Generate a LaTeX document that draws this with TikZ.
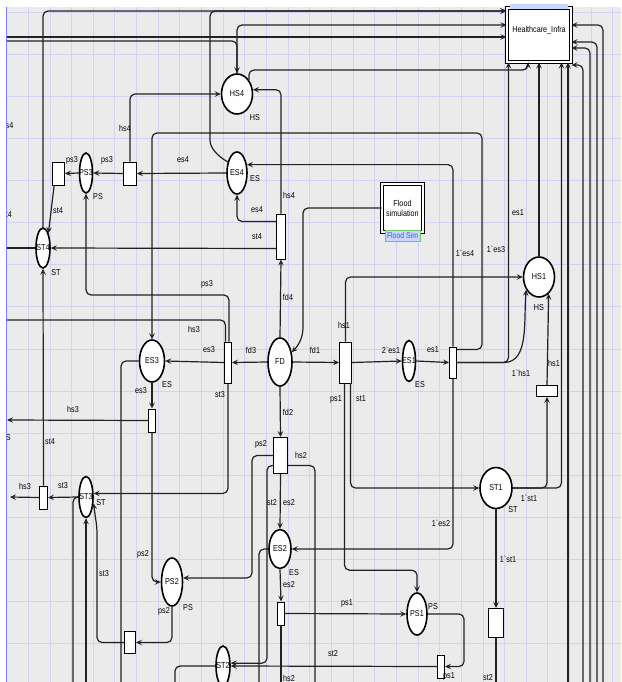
\documentclass[tikz,border=0pt]{standalone}
\usepackage{fontspec}
\newfontfamily\cpnfont{Liberation Sans}[FakeStretch=0.84]
\usepackage{tikz}
\usetikzlibrary{positioning, arrows.meta, calc, shapes.geometric}
\definecolor{canvas}{HTML}{EBEBEB}
\definecolor{gridblue}{HTML}{D2D2F4}
\definecolor{inkline}{HTML}{222222}
\definecolor{tagblue}{HTML}{3A5BE0}
\definecolor{tagfill}{HTML}{C9D6FF}
\definecolor{tagedge}{HTML}{6CCB5F}

\tikzset{
  ptext/.style={font=\cpnfont\fontsize{8.6}{10}\selectfont, inner sep=0pt},
  place/.style={ellipse, draw=black, line width=1.6pt, fill=white, inner sep=0pt,
    label={[ptext]center:#1}},
  trans/.style={rectangle, draw=black, line width=1pt, fill=white, inner sep=0pt},
  subst/.style={rectangle, draw=black, double=white, double distance=1.4pt,
    line width=1pt, fill=white, font=\cpnfont\fontsize{8.6}{10}\selectfont},
  simtag/.style={rectangle, fill=tagfill, draw=tagedge, line width=0.8pt, text=tagblue,
    font=\cpnfont\fontsize{8.2}{9}\selectfont, inner sep=0.5pt, minimum width=35pt, minimum height=11pt},
  cpnarc/.style={draw=inkline, line width=1.2pt, rounded corners=5pt,
    -{Stealth[length=6pt,width=5.5pt,inset=2.4pt]}},
  cpnline/.style={draw=inkline, line width=1.2pt, rounded corners=5pt},
  lbl/.style={font=\cpnfont\fontsize{8.6}{10}\selectfont, inner sep=0pt},
}

\begin{document}
\begin{tikzpicture}[x=1pt, y=-1pt]
\useasboundingbox (0,0) rectangle (621,682);
\fill[white] (0,0) rectangle (621,682);
\begin{scope}
\clip (6,7) rectangle (621,682);
\fill[canvas] (6,7) rectangle (621,682);
\foreach \gx in {0,...,28}
  \draw[gridblue, line width=0.6pt] (6.5+21.65*\gx,7) -- ++(0,675);
\foreach \gy in {0,...,16}
  \draw[gridblue, line width=0.6pt] (6,12+42.1*\gy) -- ++(615,0);

% places
\node[place=HS4, minimum width=31pt, minimum height=40pt] (HS4) at (237,94) {};
\node[place=ES4, minimum width=20pt, minimum height=42pt] (ES4) at (237,173) {};
\node[place=PS3, minimum width=13pt, minimum height=40pt] (PS3) at (86,173) {};
\node[place=ST4, minimum width=14pt, minimum height=40pt] (ST4) at (43,248) {};
\node[place=ES3, minimum width=25pt, minimum height=42pt] (ES3) at (152,361) {};
\node[place=FD, minimum width=24pt, minimum height=48pt] (FD) at (280,362) {};
\node[place=ES1, minimum width=13pt, minimum height=41pt] (ES1) at (409,361) {};
\node[place=HS1, minimum width=31pt, minimum height=40pt] (HS1) at (539,277) {};
\node[place=ST1, minimum width=32pt, minimum height=41pt] (ST1) at (496,488) {};
\node[place=ST3, minimum width=14pt, minimum height=41pt] (ST3) at (86,497) {};
\node[place=ES2, minimum width=22pt, minimum height=39pt] (ES2) at (280,549) {};
\node[place=PS2, minimum width=21pt, minimum height=48pt] (PS2) at (172,582) {};
\node[place=PS1, minimum width=20pt, minimum height=42pt] (PS1) at (417,614) {};
\node[place=ST2, minimum width=14pt, minimum height=40pt] (ST2) at (223,666) {};

% transitions
\node[trans, minimum width=12pt, minimum height=23pt] (tSt4) at (58.5,173.5) {};
\node[trans, minimum width=13pt, minimum height=23pt] (tPs3) at (130,173.5) {};
\node[trans, minimum width=9pt, minimum height=45pt] (tFd4) at (281,236.5) {};
\node[trans, minimum width=7pt, minimum height=41pt] (tFd3) at (228,362.5) {};
\node[trans, minimum width=7pt, minimum height=23pt] (tEs3) at (152,420.5) {};
\node[trans, minimum width=12pt, minimum height=41pt] (tFd1) at (345.5,362.5) {};
\node[trans, minimum width=7pt, minimum height=31pt] (tEs1) at (453,362.5) {};
\node[trans, minimum width=21pt, minimum height=11pt] (tHs1) at (547,391) {};
\node[trans, minimum width=14pt, minimum height=36pt] (tFd2) at (280.5,455.5) {};
\node[trans, minimum width=8pt, minimum height=23pt] (tSt3) at (43.5,497.5) {};
\node[trans, minimum width=7pt, minimum height=23pt] (tEs2) at (281,613.5) {};
\node[trans, minimum width=11pt, minimum height=22pt] (tPs2) at (130,642.5) {};
\node[trans, minimum width=15pt, minimum height=29pt] (tSt1) at (496,623) {};
\node[trans, minimum width=7pt, minimum height=23pt] (tPs1) at (441,666.5) {};

% substitution boxes
\node[subst, minimum width=64pt, minimum height=54pt, inner ysep=3pt,
  text height=22pt, text depth=26pt] (HI) at (539,35) {Healthcare\_Infra};
\node[subst, minimum width=41pt, minimum height=48pt, align=center] (FS) at (402.5,208)
  {Flood\\simulation};
\node[simtag] (FStag) at (402.5,236) {Flood Sim};

% free ends
\coordinate (eL1) at (-5,41);
\coordinate (eL2) at (-5,37);
\coordinate (eST4) at (-5,248);
\coordinate (eHS3a) at (-8,320);
\coordinate (eHS3b) at (7,420);
\coordinate (eHS3c) at (10,497);
\coordinate (bES3) at (121,700);
\coordinate (bST3) at (73,700);
\coordinate (bST3b) at (86,700);
\coordinate (bHs2) at (315,700);
\coordinate (bEs2) at (259,700);
\coordinate (bHs2b) at (281,700);
\coordinate (bSt1) at (496,700);
\coordinate (bSt2) at (175,700);
\coordinate (r568) at (568,700);

% arcs
\draw[cpnarc] (eL1) -| (HS4.north);
\draw[cpnarc] (eL2) -- (eL2 -| HI.west);
\draw[cpnarc] (HS4.north) |- (HI.west |- 0,25);
\draw[cpnarc] (ST4.north) |- (HI.west |- 0,11);
\draw[cpnarc] (ES4.130) to[out=150,in=-90] (210,135) |- (HI.west |- 0,11);
\draw[cpnarc] (HS4.50) |- (528,70) -- (528,0 |- HI.south);
\draw[cpnarc] (tPs3.north) |- (HS4.west);
\draw[cpnarc] (tFd4.north) |- (HS4.15);
\draw[cpnarc] (FD.north) -- (tFd4.south);
\draw[cpnarc] ([yshift=15pt]tFd4.west) -| (ES4.south);
\draw[cpnarc] ([yshift=-12pt]tFd4.west) -- (ST4.east);
\draw[cpnarc] (ES4.west) -- (tPs3.east);
\draw[cpnarc] (tPs3.west) -- (PS3.east);
\draw[cpnarc] (PS3.west) -- (tSt4.east);
\draw[cpnarc] (tSt4.250) -- (ST4.70);
\draw[cpnline] (ST4.west) -- (eST4);
\draw[cpnarc] ([xshift=1pt]tFd3.north) |- (PS3.south |- 0,295) -- (PS3.south);
\draw[cpnarc] ([xshift=-2.5pt]tFd3.north) |- (eHS3a);
\draw[cpnarc] (FD.west) -- (tFd3.east);
\draw[cpnarc] (tFd3.west) -- (ES3.east);
\draw[cpnarc] (tFd3.south) |- (ST3.25);
\draw[cpnarc] (ES3.south) -- (tEs3.north);
\draw[cpnarc] (tEs3.west) -- (eHS3b);
\draw[cpnarc] (tEs3.south) |- (PS2.west);
\draw[cpnline] (ES3.west) -| (bES3);
\draw[cpnarc] (ST3.west) -- (tSt3.east);
\draw[cpnarc] (tSt3.west) -- (eHS3c);
\draw[cpnarc] (tSt3.north) -- (ST4.south);
\draw[cpnline] (ST3.west) -| (bST3);
\draw[cpnarc] (bST3b) -- (ST3.south);
\draw[cpnarc] (tPs2.west) -| (97,528) -- (ST3.-40);
\draw[cpnarc] (PS2.south) |- (tPs2.east);
\draw[cpnarc] (FD.south) -- (tFd2.north);
\draw[cpnarc] (tFd2.west) -| (252,560) |- (PS2.20);
\draw[cpnarc] (tFd2.south) -- (ES2.north);
\draw[cpnarc] ([yshift=-10pt]tFd2.west) -| (267,640) |- (ST2.20);
\draw[cpnline] ([yshift=-10pt]tFd2.east) -| (bHs2);
\draw[cpnline] (ES2.west) -| (bEs2);
\draw[cpnarc] (tEs1.south) |- (ES2.east);
\draw[cpnarc] (ES2.south) -- (tEs2.north);
\draw[cpnarc] (tEs2.east) -- (PS1.west);
\draw[cpnline] (tEs2.south) -- (bHs2b);
\draw[cpnarc] ([xshift=-1pt]tFd1.south) |- ($(PS1.north)+(0,-22)$) -- (PS1.north);
\draw[cpnarc] ([xshift=5pt]tFd1.south) |- (ST1.west);
\draw[cpnarc] (FD.east) -- (tFd1.west);
\draw[cpnarc] (tFd1.east) -- (ES1.west);
\draw[cpnarc] (ES1.east) -- (tEs1.west);
\draw[cpnarc] (tFd1.north) |- (HS1.west);
\draw[cpnarc] (FS.west) -| (303,322) to[out=-90,in=45] (FD.40);
\draw[cpnarc] ([yshift=-3pt]tEs1.north east) -| (482,133) -| (ES3.north);
\draw[cpnarc] (tEs1.north) |- (ES4.40);
\draw[cpnarc] (tEs1.east) -| ([xshift=2pt]HI.south west);
\draw[cpnarc] (tEs1.east) -- ++(42,0) to[out=0,in=-95] (HS1.225);
\draw[cpnarc] (HS1.north) -- (HS1.north |- HI.south);
\draw[cpnarc] (tHs1.north) -- (HS1.-60);
\draw[cpnarc] (ST1.east) -| (tHs1.south);
\draw[cpnarc] (ST1.east) -| ([xshift=-10pt]HI.south east);
\draw[cpnarc] (ST1.south) -- (tSt1.north);
\draw[cpnline] (tSt1.south) -- (bSt1);
\draw[cpnarc] (PS1.east) -| (464,640) |- (tPs1.east);
\draw[cpnarc] (tPs1.west) -- (ST2.east);
\draw[cpnline] (ST2.west) -| (bSt2);
\draw[cpnarc] (r568) -- (r568 |- HI.south);
\foreach \rx/\ry in {583/65, 590/48, 597/42, 603/25} {
  \coordinate (r\rx) at (\rx,700);
  \draw[cpnarc] (r\rx) |- (HI.east |- 0,\ry);
}

% arc inscriptions
\node[lbl, anchor=west] (Lhs4l) at (1.5,125) {hs4};
\node[lbl, anchor=west] (Lst4l) at (2,215) {st4};
\node[lbl, anchor=east] (Lhsl) at (11,438) {HS};
\node[lbl] (Lhs4a) at (125,128) {hs4};
\node[lbl] (Lps3a) at (72,160) {ps3};
\node[lbl] (Lps3b) at (107,160) {ps3};
\node[lbl] (Les4a) at (183,160) {es4};
\node[lbl] (Lst4a) at (58,211) {st4};
\node[lbl] (Les4b) at (257,210) {es4};
\node[lbl] (Lhs4b) at (289,195) {hs4};
\node[lbl] (Lst4b) at (257,237) {st4};
\node[lbl] (Lfd4) at (288,297) {fd4};
\node[lbl] (Lps3c) at (207,284) {ps3};
\node[lbl] (Lhs3a) at (194,329) {hs3};
\node[lbl] (Les3a) at (209,350) {es3};
\node[lbl] (Lfd3) at (251,350) {fd3};
\node[lbl] (Lfd1) at (315,350) {fd1};
\node[lbl] (Les3b) at (141,391) {es3};
\node[lbl] (Lst3a) at (220,395) {st3};
\node[lbl] (Lhs3b) at (73,409) {hs3};
\node[lbl] (Lst4c) at (50,442) {st4};
\node[lbl] (Lfd2) at (288,412) {fd2};
\node[lbl] (Lps2a) at (261,444) {ps2};
\node[lbl] (Lhs2a) at (301,455) {hs2};
\node[lbl] (Lhs1a) at (344,325) {hs1};
\node[lbl] (Les1a) at (391,350) {2`es1};
\node[lbl] (Les1b) at (433,350) {es1};
\node[lbl] (Lps1a) at (336,399) {ps1};
\node[lbl] (Lst1a) at (361,399) {st1};
\node[lbl] (Lhs1b) at (521,373) {1`hs1};
\node[lbl] (Lhs1c) at (554,363) {hs1};
\node[lbl] (Les1c) at (518,213) {es1};
\node[lbl] (Les4c) at (465,253) {1`es4};
\node[lbl] (Les3c) at (496,249) {1`es3};
\node[lbl] (Lhs3c) at (25,486) {hs3};
\node[lbl] (Lst3b) at (63,486) {st3};
\node[lbl] (Lst3c) at (104,574) {st3};
\node[lbl] (Lps2b) at (143,554) {ps2};
\node[lbl] (Lps2c) at (164,611) {ps2};
\node[lbl] (Lst2a) at (272,503) {st2};
\node[lbl] (Les2a) at (289,503) {es2};
\node[lbl] (Les2b) at (289,585) {es2};
\node[lbl] (Lhs2b) at (289,678) {hs2};
\node[lbl] (Lst1b) at (529,498) {1`st1};
\node[lbl] (Les2c) at (441,523) {1`es2};
\node[lbl] (Lst1c) at (508,559) {1`st1};
\node[lbl] (Lps1b) at (347,603) {ps1};
\node[lbl] (Lst2b) at (333,654) {st2};
\node[lbl] (Lps1c) at (449,676) {ps1};
\node[lbl] (Lst2c) at (488,678) {st2};

% colour sets
\node[lbl] (kHS4) at (255,118) {HS};
\node[lbl] (kES4) at (255,179) {ES};
\node[lbl] (kPS3) at (98,197) {PS};
\node[lbl] (kST4) at (56,273) {ST};
\node[lbl] (kES3) at (167,385) {ES};
\node[lbl] (kES1) at (420,385) {ES};
\node[lbl] (kHS1) at (539,308) {HS};
\node[lbl] (kST3) at (101,503) {ST};
\node[lbl] (kPS2) at (188,608) {PS};
\node[lbl] (kES2) at (294,573) {ES};
\node[lbl] (kST1) at (513,510) {ST};
\node[lbl] (kPS1) at (433,607) {PS};
\end{scope}
\fill[tagfill] (510,4) rectangle (568,9);
\draw[gridblue!60!blue, line width=0.8pt] (6,7) -- (6,682);
\end{tikzpicture}
\end{document}
